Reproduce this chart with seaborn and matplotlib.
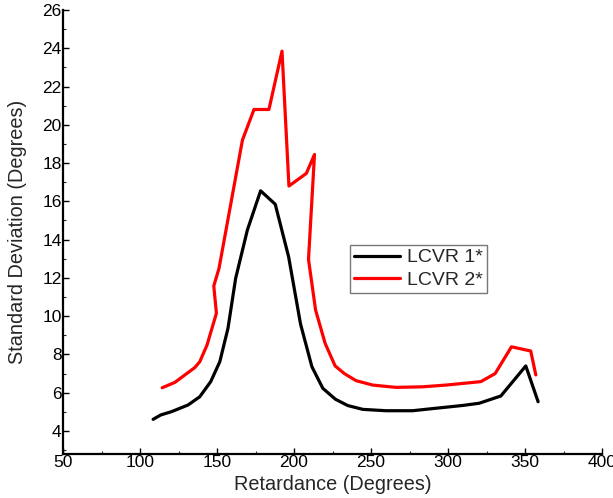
import matplotlib
matplotlib.use("Agg")
import matplotlib.pyplot as plt
from matplotlib.ticker import MultipleLocator
import seaborn as sns
import pandas as pd

# Data
lcvr1_x = [108.5, 113.5, 120.4, 131.2, 138.8, 145.9, 151.8, 157.1, 162.1, 169.7,
           178.3, 187.8, 196.5, 204.2, 211.6, 218.7, 226.9, 234.9, 244.7, 259.8,
           277.0, 292.2, 309.0, 320.2, 334.3, 350.5, 358.5]
lcvr1_y = [4.61, 4.84, 5.01, 5.36, 5.79, 6.58, 7.62, 9.36, 11.98, 14.5,
           16.55, 15.85, 13.1, 9.6, 7.36, 6.23, 5.66, 5.33, 5.13, 5.06,
           5.06, 5.19, 5.33, 5.45, 5.83, 7.40, 5.53]

lcvr2_x = [114.4, 122.6, 135.5, 138.8, 143.5, 149.6, 147.9, 151.3, 166.5, 174.0,
           183.7, 192.2, 196.7, 208.0, 213.3, 209.4, 214.0, 220.2, 226.7, 232.7,
           240.3, 251.1, 266.2, 283.5, 298.6, 313.8, 321.3, 330.6, 341.2, 353.7, 357.0]
lcvr2_y = [6.26, 6.54, 7.31, 7.62, 8.49, 10.15, 11.58, 12.5, 19.2, 20.8,
           20.8, 23.85, 16.8, 17.46, 18.45, 12.97, 10.32, 8.58, 7.40, 7.0,
           6.63, 6.40, 6.28, 6.31, 6.40, 6.52, 6.58, 7.0, 8.4, 8.18, 6.93]

series_names = ["LCVR 1*", "LCVR 2*"]
colors = ["#000000", "#ff0000"]

x_label = "Retardance (Degrees)"
y_label = "Standard Deviation (Degrees)"

sns.set_style("ticks")
plt.rcParams["font.family"] = ["Liberation Sans", "DejaVu Sans"]

fig = plt.figure(figsize=(6.13, 4.98), dpi=100)
ax = fig.add_axes([0.1028, 0.0884, 0.8793, 0.8916])

df = pd.concat([
    pd.DataFrame({"x": lcvr1_x, "y": lcvr1_y, "series": series_names[0]}),
    pd.DataFrame({"x": lcvr2_x, "y": lcvr2_y, "series": series_names[1]}),
], ignore_index=True)

sns.lineplot(data=df, x="x", y="y", hue="series", palette=colors, sort=False,
             estimator=None, units="series", linewidth=2.3, ax=ax)

ax.set_xlim(50, 400)
ax.set_ylim(2.8, 26)
ax.xaxis.set_major_locator(MultipleLocator(50))
ax.xaxis.set_minor_locator(MultipleLocator(25))
ax.yaxis.set_major_locator(MultipleLocator(2))
ax.yaxis.set_minor_locator(MultipleLocator(1))
ax.set_yticks(range(4, 27, 2))

ax.tick_params(axis="both", which="major", direction="in", length=4, width=1,
               labelsize=12.5, pad=1, colors="black")
ax.tick_params(axis="both", which="minor", direction="in", length=2.5, width=0.8)

for side in ["top", "right"]:
    ax.spines[side].set_visible(False)
for side in ["left", "bottom"]:
    ax.spines[side].set_linewidth(1.6)
    ax.spines[side].set_color("black")

ax.set_xlabel(x_label, fontsize=14.3, labelpad=3)
ax.set_ylabel(y_label, fontsize=14.3, labelpad=11)

leg = ax.legend(loc="upper left", bbox_to_anchor=(0.532, 0.471), borderaxespad=0,
                fontsize=14, frameon=True, fancybox=False, handlelength=2.4,
                handletextpad=0.35, borderpad=0.2, labelspacing=0.25)
leg.get_frame().set_edgecolor("#555555")
leg.get_frame().set_linewidth(1.0)
leg.set_title(None)

fig.savefig("out.png", dpi=100)
